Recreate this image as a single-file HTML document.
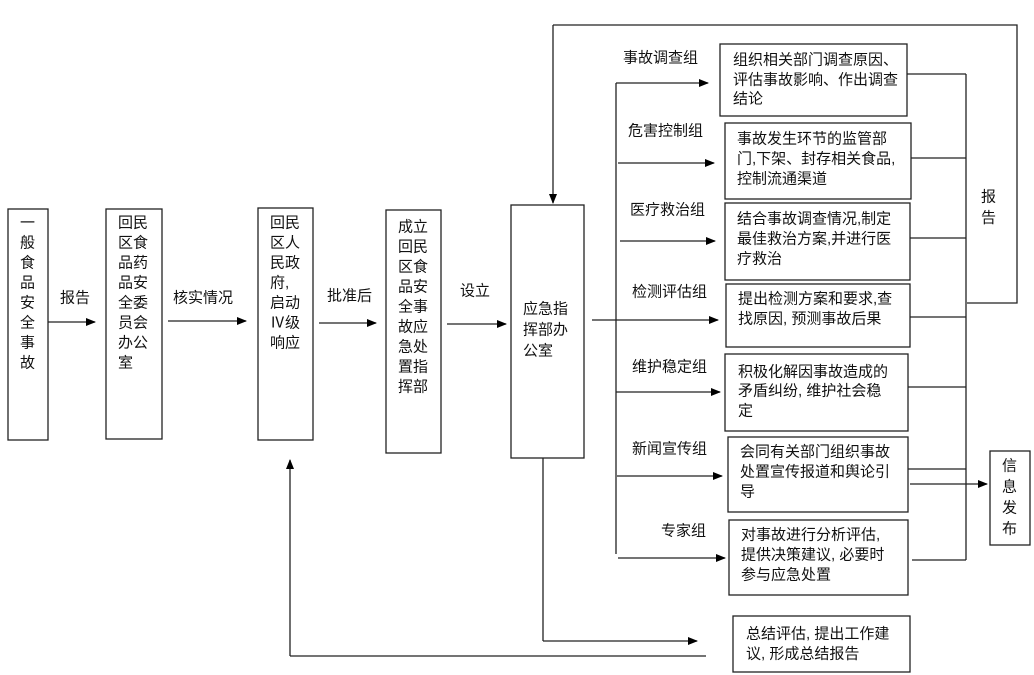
<!DOCTYPE html>
<html><head><meta charset="utf-8"><style>
html,body{margin:0;padding:0;background:#fff;}
svg{display:block;font-family:"Liberation Sans","Noto Sans CJK SC",sans-serif;font-size:15px;}
text{fill:#111;dominant-baseline:central;}
</style></head><body>
<svg width="1034" height="675" viewBox="0 0 1034 675" xmlns="http://www.w3.org/2000/svg">
<defs><marker id="a" markerWidth="10" markerHeight="8" refX="9" refY="4" orient="auto" markerUnits="userSpaceOnUse"><path d="M0,0 L10,4 L0,8 z" fill="#000"/></marker></defs>
<g fill="none" stroke="#222" stroke-width="1.3">
<rect x="8" y="209" width="40" height="231"/>
<rect x="106" y="209" width="56" height="230"/>
<rect x="258" y="208" width="55" height="232"/>
<rect x="386" y="210" width="55" height="243"/>
<rect x="511" y="205" width="73" height="253"/>
<rect x="720" y="44" width="187" height="72"/>
<rect x="725" y="123" width="186" height="76"/>
<rect x="725" y="203" width="185" height="77"/>
<rect x="726" y="284" width="184" height="63"/>
<rect x="725" y="354" width="183" height="77"/>
<rect x="728" y="437" width="180" height="75"/>
<rect x="729" y="520" width="179" height="75"/>
<rect x="733" y="616" width="177" height="56"/>
<rect x="990" y="451" width="40" height="94"/>
</g>
<g stroke="#222" stroke-width="1.3" fill="none">
<line x1="48" y1="322" x2="95" y2="322" marker-end="url(#a)"/>
<line x1="168" y1="321" x2="246" y2="321" marker-end="url(#a)"/>
<line x1="319" y1="323" x2="376" y2="323" marker-end="url(#a)"/>
<line x1="447" y1="324" x2="506" y2="324" marker-end="url(#a)"/>
<polyline points="553,25 1017,25 1017,303 967,303"/>
<line x1="553" y1="25" x2="553" y2="203" marker-end="url(#a)"/>
<line x1="616" y1="83" x2="616" y2="554"/>
<line x1="616" y1="83" x2="708" y2="83" marker-end="url(#a)"/>
<line x1="618" y1="163" x2="714" y2="163" marker-end="url(#a)"/>
<line x1="620" y1="241" x2="715" y2="241" marker-end="url(#a)"/>
<line x1="592" y1="320" x2="718" y2="320" marker-end="url(#a)"/>
<line x1="616" y1="392" x2="720" y2="392" marker-end="url(#a)"/>
<line x1="617" y1="476" x2="722" y2="476" marker-end="url(#a)"/>
<line x1="618" y1="558" x2="725" y2="558" marker-end="url(#a)"/>
<line x1="966" y1="74" x2="966" y2="560"/>
<line x1="907" y1="74" x2="966" y2="74"/>
<line x1="911" y1="158" x2="966" y2="158"/>
<line x1="910" y1="238" x2="966" y2="238"/>
<line x1="910" y1="317" x2="966" y2="317"/>
<line x1="908" y1="387" x2="966" y2="387"/>
<line x1="908" y1="469" x2="966" y2="469"/>
<line x1="912" y1="560" x2="966" y2="560"/>
<line x1="910" y1="484" x2="987" y2="484" marker-end="url(#a)"/>
<polyline points="543,458 543,641"/>
<line x1="543" y1="641" x2="697" y2="641" marker-end="url(#a)"/>
<line x1="290" y1="656" x2="706" y2="656"/>
<line x1="290" y1="656" x2="290" y2="460" marker-end="url(#a)"/>
</g>
<g>
<text x="20" y="223">一</text><text x="20" y="243">般</text><text x="20" y="263">食</text><text x="20" y="283">品</text><text x="20" y="303">安</text><text x="20" y="323">全</text><text x="20" y="343">事</text><text x="20" y="363">故</text>
<text x="118" y="223">回民</text><text x="118" y="243">区食</text><text x="118" y="263">品药</text><text x="118" y="283">品安</text><text x="118" y="303">全委</text><text x="118" y="323">员会</text><text x="118" y="343">办公</text><text x="118" y="363">室</text>
<text x="270" y="223">回民</text><text x="270" y="243">区人</text><text x="270" y="263">民政</text><text x="270" y="283">府,</text><text x="270" y="303">启动</text><text x="270" y="323">Ⅳ级</text><text x="270" y="343">响应</text>
<text x="398" y="227">成立</text><text x="398" y="247">回民</text><text x="398" y="267">区食</text><text x="398" y="287">品安</text><text x="398" y="307">全事</text><text x="398" y="327">故应</text><text x="398" y="347">急处</text><text x="398" y="367">置指</text><text x="398" y="387">挥部</text>
<text x="60" y="298">报告</text>
<text x="173" y="298">核实情况</text>
<text x="327" y="296">批准后</text>
<text x="460" y="291">设立</text>
<text x="523" y="309">应急指</text><text x="523" y="330">挥部办</text><text x="523" y="351">公室</text>
<text x="623" y="58">事故调查组</text>
<text x="628" y="131">危害控制组</text>
<text x="630" y="210">医疗救治组</text>
<text x="632" y="292">检测评估组</text>
<text x="632" y="367">维护稳定组</text>
<text x="632" y="449">新闻宣传组</text>
<text x="661" y="531">专家组</text>
<text x="733" y="60">组织相关部门调查原因、</text><text x="733" y="80">评估事故影响、作出调查</text><text x="733" y="99">结论</text>
<text x="737" y="139">事故发生环节的监管部</text><text x="737" y="159">门,下架、封存相关食品,</text><text x="737" y="179">控制流通渠道</text>
<text x="737" y="219">结合事故调查情况,制定</text><text x="737" y="239">最佳救治方案,并进行医</text><text x="737" y="259">疗救治</text>
<text x="738" y="299">提出检测方案和要求,查</text><text x="738" y="319">找原因, 预测事故后果</text>
<text x="738" y="372">积极化解因事故造成的</text><text x="738" y="391">矛盾纠纷, 维护社会稳</text><text x="738" y="411">定</text>
<text x="740" y="452">会同有关部门组织事故</text><text x="740" y="472">处置宣传报道和舆论引</text><text x="740" y="492">导</text>
<text x="741" y="535">对事故进行分析评估,</text><text x="741" y="555">提供决策建议, 必要时</text><text x="741" y="575">参与应急处置</text>
<text x="746" y="634">总结评估, 提出工作建</text><text x="746" y="654">议, 形成总结报告</text>
<text x="981" y="197">报</text><text x="981" y="218">告</text>
<text x="1002" y="466">信</text><text x="1002" y="487">息</text><text x="1002" y="508">发</text><text x="1002" y="529">布</text>
</g>
</svg>
</body></html>
